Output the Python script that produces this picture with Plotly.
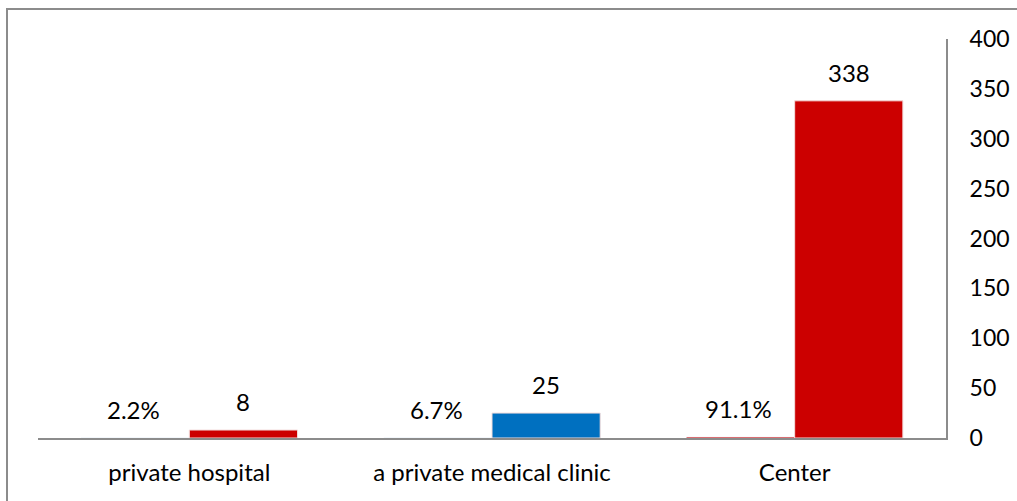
import plotly.graph_objects as go

categories = ["private hospital", "a private medical clinic", "Center"]
percent_values = [0.022, 0.067, 0.911]
percent_labels = ["2.2%", "6.7%", "91.1%"]
count_values = [8, 25, 338]
count_colors = ["#CC0000", "#0070C0", "#CC0000"]
y_ticks = [0, 50, 100, 150, 200, 250, 300, 350, 400]

font_family = "Lato, Open Sans, sans-serif"
FS = 24

fig = go.Figure()
fig.add_trace(go.Bar(
    x=categories, y=percent_values,
    marker=dict(color="#CC0000"),
    cliponaxis=False, yaxis="y",
))
fig.add_trace(go.Bar(
    x=categories, y=count_values,
    marker=dict(color=count_colors, line=dict(color="#F2DCDB", width=1)),
    cliponaxis=False, yaxis="y",
))

L, R, T, B = 38, 71, 39, 63
W, H = 1017, 501
pw, ph = W - L - R, H - T - B

def px_x(v):
    return (v - L) / pw

def px_y(v):
    return (H - B - v) / ph

annotations = []
for cat, pv, pl, cv in zip(categories, percent_values, percent_labels, count_values):
    annotations.append(dict(x=cat, y=pv, text=pl, showarrow=False, xshift=-56,
                            yanchor="bottom", yshift=12,
                            font=dict(size=FS, color="#000000", family=font_family)))
    annotations.append(dict(x=cat, y=cv, text=str(cv), showarrow=False, xshift=54,
                            yanchor="bottom", yshift=12,
                            font=dict(size=FS, color="#000000", family=font_family)))

fig.update_layout(
    width=W, height=H,
    margin=dict(l=L, r=R, t=T, b=B, autoexpand=False),
    paper_bgcolor="white", plot_bgcolor="white",
    barmode="group", bargap=0.285, bargroupgap=0,
    showlegend=False,
    font=dict(family=font_family, size=FS, color="#000000"),
    annotations=annotations,
    xaxis=dict(
        showline=True, linecolor="#8C8C8C", linewidth=2,
        showgrid=False, ticks="", tickfont=dict(size=FS),
        zeroline=False, ticklabelstandoff=12, automargin=False,
    ),
    yaxis=dict(
        side="right", range=[0, 400], tickvals=y_ticks,
        showline=True, linecolor="#8C8C8C", linewidth=2,
        showgrid=False, ticks="", zeroline=False,
        tickfont=dict(size=23), ticklabelstandoff=17, automargin=False,
    ),
    shapes=[dict(
        type="rect", xref="paper", yref="paper",
        x0=px_x(7), x1=px_x(1030), y0=px_y(9), y1=px_y(520),
        line=dict(color="#8C8C8C", width=2), fillcolor="rgba(0,0,0,0)",
        layer="above",
    )],
)

fig.write_html("out.html")
